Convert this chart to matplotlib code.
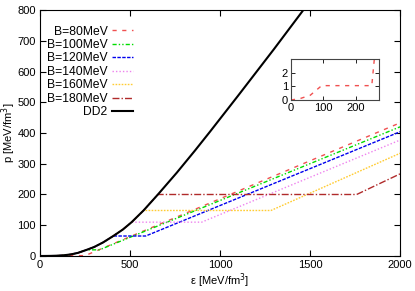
import matplotlib.pyplot as plt

plt.rcParams['font.family'] = ['Liberation Sans', 'DejaVu Sans']
plt.rcParams['font.size'] = 8

# DD2 hadronic EoS, eps [MeV/fm^3] vs p [MeV/fm^3]
dd2_eps = [0, 28, 60, 95, 130, 170, 210, 259, 300, 350, 407, 460, 509, 575, 655, 760, 861, 944,
           1100, 1300, 1463]
dd2_p = [0, 0.1, 0.35, 1.0, 2.2, 5, 10, 20, 29, 44, 65, 86, 110, 148, 200, 271, 343, 404,
         521, 673, 800]

# hybrid EoS for each bag constant: phase transition onset/end, plateau pressure, p at eps=2000
bags = ["B=80MeV", "B=100MeV", "B=120MeV", "B=140MeV", "B=160MeV", "B=180MeV"]
eps_onset = [95, 259, 407, 509, 575, 655]
eps_end = [250, 330, 587, 898, 1283, 1759]
p_plateau = [1.05, 20, 65, 110, 148, 200]
p_2000 = [433, 420, 404, 377, 334, 267]

colors = ["#f05050", "#00dd00", "#0000ee", "#ee82ee", "#ffcc33", "#b02a2a"]
styles = [(0, (3, 4)), (0, (3, 1.5, 1, 1.5, 1, 1.5)), (0, (2.5, 1)), (0, (1, 1.5)),
          (0, (1.2, 1)), (0, (5, 1.5, 1, 1.5))]


def hybrid(i):
    xs = [e for e in dd2_eps if e < eps_onset[i]]
    ys = [p for e, p in zip(dd2_eps, dd2_p) if e < eps_onset[i]]
    xs += [eps_onset[i], eps_end[i], 2000]
    ys += [p_plateau[i], p_plateau[i], p_2000[i]]
    return xs, ys


fig = plt.figure(figsize=(4.15, 2.91), dpi=100)
ax = fig.add_axes([0.0964, 0.1203, 0.8675, 0.8453])

for i in range(len(bags)):
    x, y = hybrid(i)
    ax.plot(x, y, color=colors[i], linestyle=styles[i], lw=1, label=bags[i])
ax.plot(dd2_eps, dd2_p, color='black', lw=1.5, label="DD2", zorder=5)

ax.set_xlim(0, 2000)
ax.set_ylim(0, 800)
ax.set_xticks([0, 500, 1000, 1500, 2000])
ax.set_yticks(range(0, 801, 100))
ax.tick_params(direction='in', top=True, right=True, length=4, width=0.8, pad=3)
ax.set_xlabel("ε [MeV/fm$^3$]", labelpad=1)
ax.set_ylabel("p [MeV/fm$^3$]")
ax.yaxis.set_label_coords(-0.06, 0.5)

leg = ax.legend(loc='upper right', bbox_to_anchor=(0.258, 0.937), frameon=False,
                markerfirst=False, handlelength=1.7, handletextpad=0.4,
                labelspacing=0.12, borderpad=0, borderaxespad=0, fontsize=8.7)

# inset: low density part of B=80MeV
ins = fig.add_axes([0.701, 0.6564, 0.212, 0.1409])
x, y = hybrid(0)
ins.plot(x, y, color=colors[0], linestyle=styles[0], lw=1)
ins.set_xlim(0, 272)
ins.set_ylim(0, 3)
ins.set_xticks([0, 100, 200])
ins.set_yticks([0, 1, 2])
ins.tick_params(direction='in', top=True, right=True, length=3, width=0.6, pad=2)
for s in ins.spines.values():
    s.set_color('#444444')
    s.set_linewidth(0.8)

fig.savefig("out.png", dpi=100)
